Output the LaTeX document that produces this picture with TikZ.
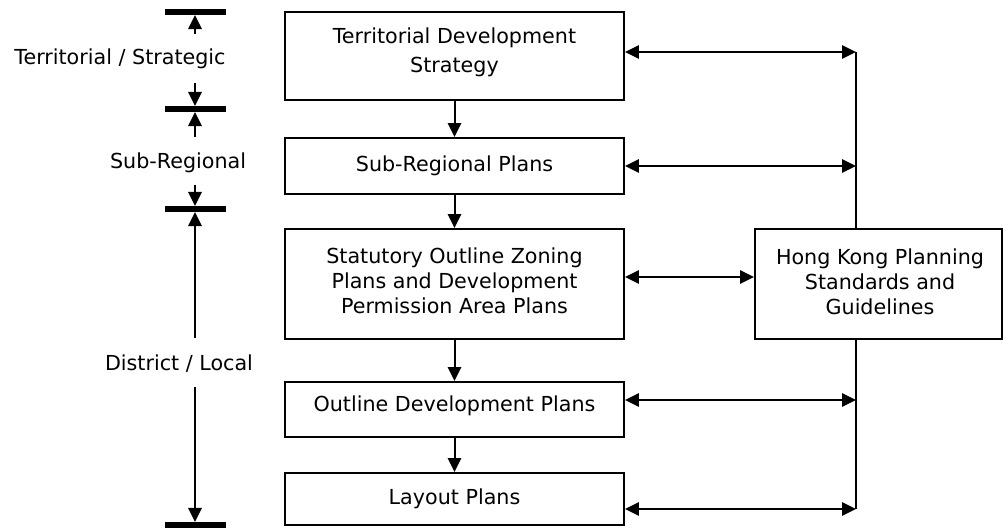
\documentclass[tikz,border=0pt]{standalone}
\usepackage{fontspec}
\setmainfont{DejaVu Sans}
\usetikzlibrary{arrows.meta}
\newdimen\pxu \pxu=0.75pt
\begin{document}
\begin{tikzpicture}[x=0.75pt, y=-0.75pt,
  font=\fontsize{15.5}{18.75}\selectfont,
  box/.style={draw, line width=1.4pt, fill=white, inner sep=0pt},
  txt/.style={align=center, inner sep=0pt},
  tip/.tip={Triangle[length=10.5pt, width=10pt]},
  arr/.style={line width=1.5pt, -tip},
  biarr/.style={line width=1.5pt, tip-tip},
  link/.style={line width=1.5pt},
  bar/.style={fill=black, inner sep=0pt, minimum width=61\pxu, minimum height=5.5\pxu}]
\useasboundingbox (0,0) rectangle (1003,529);

% planning hierarchy boxes
\node[box, minimum width=339\pxu, minimum height=88\pxu] (b1) at (454.5,56) {};
\node[txt, font=\fontsize{15.5}{22}\selectfont] (t1) at (454.5,52) {Territorial Development\\Strategy};
\node[box, minimum width=339\pxu, minimum height=56\pxu] (b2) at (454.5,166) {};
\node[txt] (t2) at (454.5,166) {Sub-Regional Plans};
\node[box, minimum width=339\pxu, minimum height=110\pxu] (b3) at (454.5,284) {};
\node[txt] (t3) at (454.5,281) {Statutory Outline Zoning\\Plans and Development\\Permission Area Plans};
\node[box, minimum width=339\pxu, minimum height=55\pxu] (b4) at (454.5,409.5) {};
\node[txt] (t4) at (454.5,406) {Outline Development Plans};
\node[box, minimum width=339\pxu, minimum height=52\pxu] (b5) at (454.5,499) {};
\node[txt] (t5) at (454.5,499) {Layout Plans};

% standards box
\node[box, minimum width=247\pxu, minimum height=110\pxu] (hk) at (878.5,284) {};
\node[txt] (thk) at (880,281.5) {Hong Kong Planning\\Standards and\\Guidelines};

% downward flow
\draw[arr] (b1.south) -- (b2.north);
\draw[arr] (b2.south) -- (b3.north);
\draw[arr] (b3.south) -- (b4.north);
\draw[arr] (b4.south) -- (b5.north);

% vertical link from the standards box
\coordinate (r1) at (856,52);
\coordinate (r2) at (856,166);
\coordinate (r4) at (856,400);
\coordinate (r5) at (856,509);
\coordinate (m3) at (690,277);
\draw[link] (r1) -- (r1 |- hk.north);
\draw[link] (hk.south -| r5) -- (r5);
\draw[biarr] (b1.east |- r1) -- (r1);
\draw[biarr] (b2.east |- r2) -- (r2);
\draw[biarr] (b3.east |- m3) -- (hk.west |- m3);
\draw[biarr] (b4.east |- r4) -- (r4);
\draw[biarr] (b5.east |- r5) -- (r5);

% level scale
\node[bar] (s0) at (195,12) {};
\node[bar] (s1) at (195,109) {};
\node[bar] (s2) at (195,209) {};
\node[bar] (s3) at (195,525) {};
\node[txt] (l1) at (120,59) {Territorial / Strategic};
\node[txt] (l2) at (178,163) {Sub-Regional};
\node[txt] (l3) at (179,364) {District / Local};
\coordinate (a1) at (195,34);
\coordinate (a2) at (195,83);
\coordinate (a3) at (195,137);
\coordinate (a4) at (195,185);
\coordinate (a5) at (195,338);
\coordinate (a6) at (195,387);
\draw[arr] (a1) -- (s0.south);
\draw[arr] (a2) -- (s1.north);
\draw[arr] (a3) -- (s1.south);
\draw[arr] (a4) -- (s2.north);
\draw[arr] (a5) -- (s2.south);
\draw[arr] (a6) -- (s3.north);
\end{tikzpicture}
\end{document}
